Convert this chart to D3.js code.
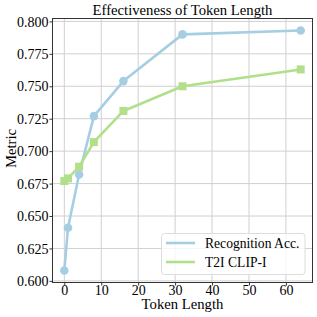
<!DOCTYPE html>
<html><head><meta charset="utf-8">
<script src="https://cdn.jsdelivr.net/npm/d3@7"></script>
<style>body{margin:0;background:#fff}svg{display:block}text{font-family:"Liberation Serif","Times New Roman",serif}</style>
</head><body>
<script>
const tokenLengths = [0, 1, 4, 8, 16, 32, 64];
const recognitionAcc = [0.608, 0.641, 0.682, 0.727, 0.754, 0.790, 0.793];
const t2iClipI = [0.677, 0.679, 0.688, 0.707, 0.731, 0.750, 0.763];
const xTicks = [0, 10, 20, 30, 40, 50, 60];
const yTicks = [0.600, 0.625, 0.650, 0.675, 0.700, 0.725, 0.750, 0.775, 0.800];
const seriesNames = ["Recognition Acc.", "T2I CLIP-I"];
const colors = ["#a6cee3", "#b2df8a"];

const W = 317, H = 317;
const m = {left: 52.5, right: 312.5, top: 18.5, bottom: 282.5};
const svg = d3.select("body").append("svg").attr("width", W).attr("height", H);

const x = d3.scaleLinear().domain([-3.2, 67.2]).range([m.left, m.right]);
const y = d3.scaleLinear().domain([0.59875, 0.80225]).range([m.bottom, m.top]);

// grid
const g = svg.append("g");
g.selectAll(".gx").data(xTicks).join("line")
  .attr("x1", d => x(d)).attr("x2", d => x(d)).attr("y1", m.top).attr("y2", m.bottom)
  .attr("stroke", "#d0d0d0").attr("stroke-width", 1);
g.selectAll(".gy").data(yTicks).join("line")
  .attr("y1", d => y(d)).attr("y2", d => y(d)).attr("x1", m.left).attr("x2", m.right)
  .attr("stroke", "#d0d0d0").attr("stroke-width", 1);

// series
const series = [recognitionAcc, t2iClipI];
const line = d3.line().x((d, i) => x(tokenLengths[i])).y(d => y(d));
series.forEach((vals, si) => {
  svg.append("path").datum(vals).attr("d", line).attr("fill", "none")
    .attr("stroke", colors[si]).attr("stroke-width", 2.6).attr("stroke-linejoin", "round");
  if (si === 0) {
    svg.selectAll(".c" + si).data(vals).join("circle")
      .attr("cx", (d, i) => x(tokenLengths[i])).attr("cy", d => y(d)).attr("r", 4.3)
      .attr("fill", colors[si]);
  } else {
    svg.selectAll(".s" + si).data(vals).join("rect")
      .attr("x", (d, i) => x(tokenLengths[i]) - 4).attr("y", d => y(d) - 4)
      .attr("width", 8).attr("height", 8).attr("fill", colors[si]);
  }
});

// axes
const xAxis = d3.axisBottom(x).tickValues(xTicks).tickSize(3).tickPadding(1).tickFormat(d3.format("d"));
const yAxis = d3.axisLeft(y).tickValues(yTicks).tickSize(3).tickPadding(1).tickFormat(d3.format(".3f"));
const gx = svg.append("g").attr("transform", `translate(0,${m.bottom})`).call(xAxis);
const gy = svg.append("g").attr("transform", `translate(${m.left},0)`).call(yAxis);
[gx, gy].forEach(a => {
  a.select(".domain").remove();
  a.selectAll("line").attr("stroke", "#333");
  a.selectAll("text").attr("font-size", 14).attr("fill", "#000").style("font-family", '"Liberation Serif",serif');
});
gx.selectAll("text").attr("y", 12).attr("dy", 0);
gy.selectAll("text").attr("dy", "0.33em");
svg.append("rect").attr("x", m.left).attr("y", m.top).attr("width", m.right - m.left).attr("height", m.bottom - m.top)
  .attr("fill", "none").attr("stroke", "#333").attr("stroke-width", 1);

// labels
svg.append("text").attr("x", (m.left + m.right) / 2).attr("y", 15).attr("text-anchor", "middle")
  .attr("font-size", 14.7).text("Effectiveness of Token Length");
svg.append("text").attr("x", (m.left + m.right) / 2).attr("y", 309).attr("text-anchor", "middle")
  .attr("font-size", 14.7).text("Token Length");
svg.append("text").attr("transform", `translate(16,${(m.top + m.bottom) / 2 - 2}) rotate(-90)`).attr("text-anchor", "middle")
  .attr("font-size", 14.7).text("Metric");

// legend
const lg = svg.append("g");
lg.append("rect").attr("x", 161.5).attr("y", 233.5).attr("width", 143.5).attr("height", 41).attr("rx", 3)
  .attr("fill", "#fff").attr("fill-opacity", 0.8).attr("stroke", "#ddd");
seriesNames.forEach((n, i) => {
  const yy = 243 + i * 19;
  lg.append("line").attr("x1", 166).attr("x2", 195).attr("y1", yy).attr("y2", yy)
    .attr("stroke", colors[i]).attr("stroke-width", 2.6);
  lg.append("text").attr("x", 205).attr("y", yy + 4.8).attr("font-size", 13.6).text(n);
});
</script>
</body></html>
